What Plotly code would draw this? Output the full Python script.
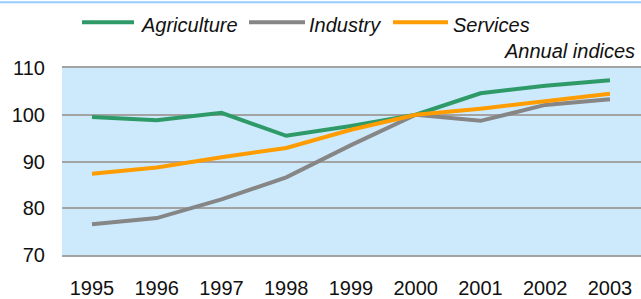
import plotly.graph_objects as go

years = [1995, 1996, 1997, 1998, 1999, 2000, 2001, 2002, 2003]
agriculture = [99.5, 98.8, 100.4, 95.5, 97.6, 100.0, 104.6, 106.2, 107.4]
industry = [76.6, 77.9, 81.9, 86.6, 93.5, 100.0, 98.7, 102.1, 103.3]
services = [87.4, 88.7, 90.9, 92.9, 96.8, 100.0, 101.3, 103.0, 104.5]
series_names = ["Agriculture", "Industry", "Services"]
y_ticks = [70, 80, 90, 100, 110]
unit_label = "Annual indices"

colors = {"Agriculture": "#2e9a68", "Industry": "#868686", "Services": "#ff9c00"}
GRID = "#a3a3a3"
FONT = "Liberation Sans, Arial, sans-serif"

W, H = 641, 299
L, R, T, B = 62, 0, 68, 39
pw, ph = W - L - R, H - T - B

def px_x(p):
    return (p - L) / pw

def px_y(p):
    return (H - B - p) / ph

fig = go.Figure()
data = {"Agriculture": agriculture, "Industry": industry, "Services": services}
for name in ["Industry", "Agriculture", "Services"]:
    fig.add_trace(go.Scatter(x=years, y=data[name], mode="lines", name=name,
                             line=dict(color=colors[name], width=4),
                             showlegend=False))

shapes = []
annotations = []
# custom legend
legend_items = [(82, 134, 140), (249, 305, 308), (393, 448, 452)]
for name, (x0, x1, tx) in zip(series_names, legend_items):
    shapes.append(dict(type="line", xref="paper", yref="paper",
                       x0=px_x(x0), x1=px_x(x1), y0=px_y(21), y1=px_y(21),
                       line=dict(color=colors[name], width=4)))
    annotations.append(dict(text="<i>" + name + "</i>", xref="paper", yref="paper",
                            x=px_x(tx - 1), y=px_y(24), xanchor="left", yanchor="middle",
                            showarrow=False,
                            font=dict(family=FONT, size=20, color="#111")))
# top border
shapes.append(dict(type="line", xref="paper", yref="paper",
                   x0=px_x(0), x1=px_x(W), y0=px_y(0.5), y1=px_y(0.5),
                   line=dict(color="#99ccff", width=2)))
annotations.append(dict(text="<i>" + unit_label + "</i>", xref="paper", yref="paper",
                        x=px_x(637), y=px_y(51), xanchor="right", yanchor="middle",
                        showarrow=False,
                        font=dict(family=FONT, size=20, color="#111")))

fig.update_layout(
    width=W, height=H,
    margin=dict(l=L, r=R, t=T, b=B, pad=0),
    paper_bgcolor="white",
    plot_bgcolor="#cdeafd",
    shapes=shapes,
    annotations=annotations,
    font=dict(family=FONT, size=20, color="#111"),
    xaxis=dict(range=[1994.537, 2003.479], tickmode="array", tickvals=years,
               ticktext=[str(y) for y in years], showgrid=False, zeroline=False,
               ticks="outside", ticklen=14, tickcolor="rgba(0,0,0,0)",
               showline=True, linecolor=GRID, linewidth=2, mirror=True,
               fixedrange=True),
    yaxis=dict(range=[70, 110], tickmode="array", tickvals=y_ticks,
               showgrid=True, gridcolor=GRID, gridwidth=2, zeroline=False,
               ticks="outside", ticklen=12, tickcolor="rgba(0,0,0,0)",
               showline=False, fixedrange=True),
)
fig.write_html("out.html", config={"displayModeBar": False},
               post_script="document.body.style.margin='0px';document.body.style.overflow='hidden';")
